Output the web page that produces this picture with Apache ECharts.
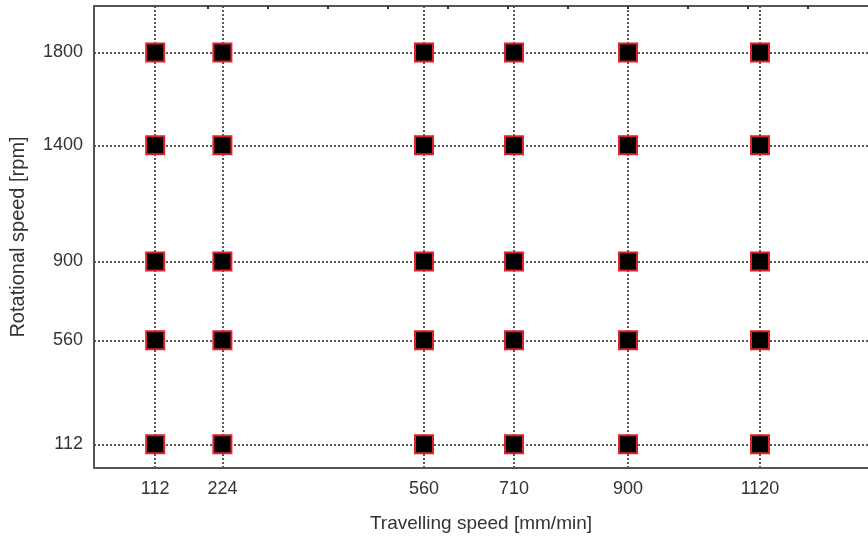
<!DOCTYPE html>
<html>
<head>
<meta charset="utf-8">
<script src="https://cdn.jsdelivr.net/npm/echarts@6/dist/echarts.min.js"></script>
<style>html,body{margin:0;padding:0;background:#fff}#c{width:868px;height:538px}</style>
</head>
<body>
<div id="c"></div>
<script>
var travellingSpeeds = [112, 224, 560, 710, 900, 1120];
var rotationalSpeeds = [112, 560, 900, 1400, 1800];
var xTickLabels = [112, 224, 560, 710, 900, 1120];
var yTickLabels = [112, 560, 900, 1400, 1800];
var topMinorTicks = [200, 300, 400, 500, 600, 700, 800, 900, 1000, 1100, 1200];

var points = [];
rotationalSpeeds.forEach(function (r) {
  travellingSpeeds.forEach(function (t) { points.push([t, r]); });
});

var chart = echarts.init(document.getElementById('c'), null, {renderer: 'canvas'});
var font = '"Liberation Sans", Arial, sans-serif';
var plain = function (v) { return String(v); };
chart.setOption({
  animation: false,
  backgroundColor: '#fff',
  grid: {left: 93, top: 6, right: -6, bottom: 69, show: false},
  xAxis: [{
    type: 'value', min: 10, max: 1300,
    name: 'Travelling speed [mm/min]', nameLocation: 'middle', nameGap: 46,
    nameTextStyle: {fontFamily: font, fontSize: 19, color: '#333'},
    axisLine: {show: true, lineStyle: {color: '#555', width: 2}},
    axisTick: {show: false, customValues: xTickLabels},
    axisLabel: {customValues: xTickLabels, formatter: plain, fontFamily: font, fontSize: 18, color: '#333', margin: 12},
    splitLine: {show: true, lineStyle: {color: '#222', width: 1.5, type: [2, 2]}}
  }, {
    type: 'value', min: 10, max: 1300, position: 'top',
    axisLine: {show: true, lineStyle: {color: '#555', width: 2}},
    axisTick: {show: true, inside: true, length: 3, customValues: topMinorTicks, lineStyle: {color: '#333', width: 2}},
    axisLabel: {show: false},
    splitLine: {show: false}
  }],
  yAxis: {
    type: 'value', min: 10, max: 2000,
    name: 'Rotational speed [rpm]', nameLocation: 'middle', nameGap: 66,
    nameTextStyle: {fontFamily: font, fontSize: 20, color: '#333'},
    axisLine: {show: true, lineStyle: {color: '#555', width: 2}},
    axisTick: {show: false, customValues: yTickLabels},
    axisLabel: {customValues: yTickLabels, formatter: plain, fontFamily: font, fontSize: 18, color: '#333', margin: 11},
    splitLine: {show: true, lineStyle: {color: '#222', width: 1.5, type: [2, 2]}}
  },
  series: [{
    type: 'scatter',
    xAxisIndex: 0,
    data: points,
    symbol: 'rect',
    symbolSize: 18,
    itemStyle: {color: '#000', borderColor: '#e0202a', borderWidth: 2, opacity: 1}
  }]
});
</script>
</body>
</html>
